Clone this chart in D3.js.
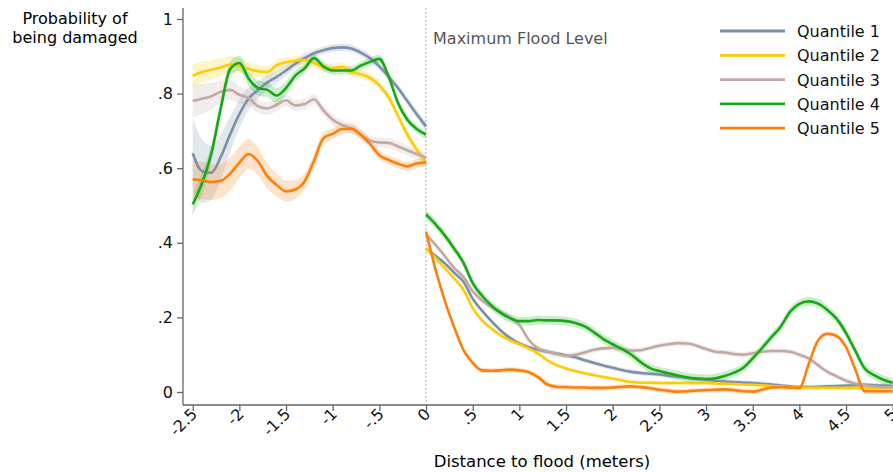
<!DOCTYPE html>
<html>
<head>
<meta charset="utf-8">
<script src="https://cdn.jsdelivr.net/npm/d3@7"></script>
<style>
    body { margin: 0; background: #fff; }
    #chart { width: 893px; height: 472px; }
    text { font-family: "DejaVu Sans", sans-serif; }
</style>
</head>
<body>
<div id="chart"></div>
<script>
// Distance grids (meters)
const xLeft = [-2.5, -2.4, -2.3, -2.2, -2.1, -2.0, -1.9, -1.8, -1.7, -1.6, -1.5, -1.4, -1.3,
    -1.2, -1.1, -1.0, -0.9, -0.8, -0.7, -0.6, -0.5, -0.4, -0.3, -0.2, -0.1, 0];
const xRight = [0, 0.1, 0.2, 0.3, 0.4, 0.5, 0.6, 0.7, 0.8, 0.9, 1.0, 1.1, 1.2, 1.3, 1.4, 1.5,
    1.6, 1.7, 1.8, 1.9, 2.0, 2.1, 2.2, 2.3, 2.4, 2.5, 2.6, 2.7, 2.8, 2.9, 3.0, 3.1, 3.2, 3.3,
    3.4, 3.5, 3.6, 3.7, 3.8, 3.9, 4.0, 4.1, 4.2, 4.3, 4.4, 4.5, 4.6, 4.7, 4.8, 4.9, 5.0];

const seriesNames = ['Quantile 1', 'Quantile 2', 'Quantile 3', 'Quantile 4', 'Quantile 5'];
const seriesColors = ['#7d90a8', '#fbcd06', '#c3a9a5', '#18a818', '#fc800c'];

// Before the flood level
const q1Left = [0.64, 0.592, 0.588, 0.63, 0.69, 0.745, 0.787, 0.81, 0.83, 0.845, 0.862, 0.88, 0.895,
    0.908, 0.916, 0.922, 0.924, 0.921, 0.91, 0.895, 0.873, 0.845, 0.815, 0.78, 0.745, 0.712];
const q2Left = [0.848, 0.858, 0.864, 0.87, 0.878, 0.875, 0.866, 0.86, 0.858, 0.876, 0.884, 0.888, 0.89,
    0.882, 0.87, 0.868, 0.872, 0.858, 0.852, 0.842, 0.822, 0.79, 0.74, 0.69, 0.65, 0.615];
const q3Left = [0.78, 0.786, 0.793, 0.805, 0.81, 0.797, 0.788, 0.766, 0.76, 0.77, 0.782, 0.768, 0.772,
    0.785, 0.755, 0.73, 0.716, 0.706, 0.69, 0.674, 0.669, 0.668, 0.658, 0.648, 0.638, 0.628];
const q4Left = [0.503, 0.56, 0.64, 0.76, 0.865, 0.882, 0.84, 0.815, 0.81, 0.795, 0.815, 0.848, 0.868,
    0.895, 0.873, 0.862, 0.862, 0.862, 0.875, 0.885, 0.893, 0.845, 0.775, 0.73, 0.705, 0.69];
const q5Left = [0.57, 0.567, 0.563, 0.566, 0.585, 0.615, 0.638, 0.618, 0.578, 0.555, 0.538, 0.543, 0.565,
    0.62, 0.68, 0.692, 0.705, 0.706, 0.69, 0.665, 0.635, 0.622, 0.612, 0.605, 0.613, 0.615];

// Half widths of the shaded bands, before the flood level
const q1LeftSe = [0.095, 0.085, 0.072, 0.06, 0.048, 0.038, 0.03, 0.024, 0.019, 0.016, 0.014, 0.012, 0.011,
    0.01, 0.01, 0.01, 0.01, 0.01, 0.01, 0.01, 0.01, 0.01, 0.01, 0.01, 0.011, 0.012];
const q2LeftSe = [0.03, 0.028, 0.026, 0.024, 0.022, 0.02, 0.018, 0.017, 0.016, 0.015, 0.014, 0.013, 0.013,
    0.012, 0.012, 0.012, 0.012, 0.012, 0.012, 0.012, 0.012, 0.012, 0.012, 0.012, 0.012, 0.012];
const q3LeftSe = [0.045, 0.04, 0.035, 0.03, 0.026, 0.023, 0.02, 0.018, 0.017, 0.016, 0.015, 0.015, 0.014,
    0.014, 0.014, 0.014, 0.013, 0.013, 0.013, 0.013, 0.013, 0.013, 0.013, 0.013, 0.013, 0.013];
const q4LeftSe = [0.03, 0.028, 0.025, 0.022, 0.02, 0.02, 0.02, 0.02, 0.02, 0.02, 0.018, 0.015, 0.013,
    0.012, 0.012, 0.011, 0.011, 0.011, 0.011, 0.011, 0.011, 0.011, 0.011, 0.011, 0.011, 0.011];
const q5LeftSe = [0.05, 0.05, 0.048, 0.046, 0.044, 0.042, 0.04, 0.037, 0.034, 0.031, 0.028, 0.025, 0.022,
    0.019, 0.017, 0.015, 0.014, 0.013, 0.013, 0.013, 0.013, 0.012, 0.012, 0.012, 0.012, 0.012];

// After the flood level
const q1Right = [0.384, 0.365, 0.345, 0.32, 0.296, 0.25, 0.218, 0.19, 0.165, 0.145, 0.13, 0.12, 0.113,
    0.108, 0.103, 0.098, 0.093, 0.085, 0.078, 0.071, 0.065, 0.059, 0.054, 0.051, 0.049, 0.047, 0.044,
    0.041, 0.038, 0.035, 0.033, 0.03, 0.028, 0.027, 0.025, 0.024, 0.022, 0.02, 0.017, 0.015, 0.013,
    0.013, 0.014, 0.015, 0.016, 0.017, 0.018, 0.019, 0.018, 0.017, 0.016];
const q2Right = [0.384, 0.36, 0.332, 0.305, 0.274, 0.225, 0.192, 0.17, 0.152, 0.138, 0.128, 0.117, 0.103,
    0.085, 0.072, 0.063, 0.056, 0.05, 0.045, 0.04, 0.036, 0.031, 0.027, 0.025, 0.025, 0.024, 0.024,
    0.024, 0.024, 0.024, 0.024, 0.023, 0.022, 0.021, 0.02, 0.019, 0.018, 0.016, 0.015, 0.013, 0.012,
    0.011, 0.011, 0.011, 0.011, 0.011, 0.011, 0.011, 0.011, 0.011, 0.011];
const q3Right = [0.422, 0.395, 0.365, 0.333, 0.309, 0.27, 0.245, 0.228, 0.214, 0.2, 0.18, 0.14, 0.117,
    0.108, 0.102, 0.097, 0.1, 0.106, 0.113, 0.117, 0.118, 0.115, 0.111, 0.112, 0.118, 0.124, 0.128,
    0.131, 0.13, 0.124, 0.115, 0.108, 0.106, 0.102, 0.1, 0.104, 0.108, 0.11, 0.11, 0.108, 0.1,
    0.09, 0.072, 0.054, 0.042, 0.03, 0.023, 0.018, 0.015, 0.013, 0.013];
const q4Right = [0.476, 0.45, 0.42, 0.385, 0.347, 0.292, 0.258, 0.232, 0.212, 0.198, 0.19, 0.19, 0.193,
    0.192, 0.192, 0.19, 0.185, 0.176, 0.16, 0.142, 0.128, 0.115, 0.1, 0.08, 0.064, 0.056, 0.05,
    0.044, 0.039, 0.036, 0.035, 0.037, 0.043, 0.052, 0.065, 0.09, 0.118, 0.147, 0.175, 0.215, 0.236,
    0.243, 0.237, 0.22, 0.196, 0.158, 0.11, 0.063, 0.045, 0.033, 0.025];
const q5Right = [0.43, 0.33, 0.245, 0.175, 0.113, 0.078, 0.058, 0.057, 0.058, 0.06, 0.058, 0.053, 0.04,
    0.02, 0.014, 0.013, 0.012, 0.012, 0.011, 0.011, 0.012, 0.014, 0.015, 0.013, 0.01, 0.006, 0.003,
    0.001, 0.002, 0.004, 0.005, 0.006, 0.007, 0.005, 0.002, 0.001, 0.006, 0.012, 0.013, 0.012, 0.011,
    0.075, 0.138, 0.156, 0.15, 0.12, 0.06, 0.002, 0.002, 0.002, 0.002];

// Half widths after the flood level (thin bands)
const rightSe = [0.006, 0.005, 0.007, 0.012, 0.007];

const xTickValues = [-2.5, -2, -1.5, -1, -0.5, 0, 0.5, 1, 1.5, 2, 2.5, 3, 3.5, 4, 4.5, 5];
const xTickLabels = ['-2.5', '-2', '-1.5', '-1', '-.5', '0', '.5', '1', '1.5', '2', '2.5', '3', '3.5', '4', '4.5', '5'];
const yTickValues = [0, 0.2, 0.4, 0.6, 0.8, 1];
const yTickLabels = ['0', '.2', '.4', '.6', '.8', '1'];

window.FloodChart = {
    width: 893,
    height: 472,

    init() {
        this.svg = d3.select('#chart')
            .append('svg')
            .attr('width', this.width)
            .attr('height', this.height);

        this.x = d3.scaleLinear().domain([-2.5, 5]).range([192.7, 892.7]);
        this.y = d3.scaleLinear().domain([0, 1]).range([392, 19]);

        const left = [q1Left, q2Left, q3Left, q4Left, q5Left];
        const leftSe = [q1LeftSe, q2LeftSe, q3LeftSe, q4LeftSe, q5LeftSe];
        const right = [q1Right, q2Right, q3Right, q4Right, q5Right];

        this.series = seriesNames.map((name, i) => ({
            name,
            color: seriesColors[i],
            left: xLeft.map((d, j) => ({ x: d, y: left[i][j], se: leftSe[i][j] })),
            right: xRight.map((d, j) => ({ x: d, y: right[i][j], se: rightSe[i] }))
        }));

        this.drawAxes();
        this.drawSeries();
        this.drawLegend();
    },

    drawAxes() {
        const svg = this.svg;
        const x = this.x, y = this.y;

        // flood level marker
        svg.append('line')
            .attr('x1', x(0)).attr('x2', x(0))
            .attr('y1', 8).attr('y2', 405)
            .attr('stroke', '#bdbdbd')
            .attr('stroke-width', 1.2)
            .attr('stroke-dasharray', '2,2');

        svg.append('text')
            .attr('x', x(0) + 7)
            .attr('y', 44)
            .style('font-size', '16px')
            .style('fill', '#555')
            .text('Maximum Flood Level');

        const yAxis = svg.append('g')
            .attr('transform', 'translate(183,0)')
            .call(d3.axisLeft(y).tickValues(yTickValues)
                .tickFormat((d, i) => yTickLabels[i]).tickSize(6).tickPadding(4));
        yAxis.select('.domain').attr('d', 'M0,8V405');

        const xAxis = svg.append('g')
            .attr('transform', 'translate(0,405)')
            .call(d3.axisBottom(x).tickValues(xTickValues)
                .tickFormat((d, i) => xTickLabels[i]).tickSize(6));
        xAxis.select('.domain').attr('d', 'M183,0H893');
        xAxis.selectAll('text')
            .attr('text-anchor', 'end')
            .attr('dy', 0)
            .attr('transform', 'translate(5,10) rotate(-45)')
            .attr('y', 0)
            .attr('x', 0);

        [yAxis, xAxis].forEach(a => {
            a.selectAll('.domain, line').attr('stroke', '#666').attr('stroke-width', 1.3);
            a.selectAll('text')
                .style('font-size', '16px')
                .style('font-family', '"DejaVu Sans", sans-serif')
                .attr('fill', '#111');
        });

        // titles
        svg.append('text')
            .attr('x', 75)
            .attr('y', 24)
            .attr('text-anchor', 'middle')
            .style('font-size', '16px')
            .selectAll('tspan')
            .data(['Probability of', 'being damaged'])
            .enter().append('tspan')
            .attr('x', 75)
            .attr('dy', (d, i) => i === 0 ? 0 : 19)
            .text(d => d);

        svg.append('text')
            .attr('x', 542)
            .attr('y', 467)
            .attr('text-anchor', 'middle')
            .style('font-size', '16.5px')
            .text('Distance to flood (meters)');
    },

    drawSeries() {
        const x = this.x, y = this.y;
        const g = this.svg.append('g');

        const area = d3.area()
            .x(d => x(d.x))
            .y0(d => y(d.y - d.se))
            .y1(d => y(d.y + d.se))
            .curve(d3.curveMonotoneX);

        const line = d3.line()
            .x(d => x(d.x))
            .y(d => y(d.y))
            .curve(d3.curveMonotoneX);

        this.series.forEach(s => {
            [s.left, s.right].forEach(part => {
                g.append('path')
                    .datum(part)
                    .attr('fill', s.color)
                    .attr('fill-opacity', 0.22)
                    .attr('d', area);
            });
        });

        this.series.forEach(s => {
            [s.left, s.right].forEach(part => {
                g.append('path')
                    .datum(part)
                    .attr('fill', 'none')
                    .attr('stroke', s.color)
                    .attr('stroke-width', 2.6)
                    .attr('stroke-linejoin', 'round')
                    .attr('d', line);
            });
        });
    },

    drawLegend() {
        const legend = this.svg.append('g');
        const rows = legend.selectAll('g')
            .data(this.series)
            .enter().append('g')
            .attr('transform', (d, i) => `translate(720,${31 + i * 24.3})`);

        rows.append('line')
            .attr('x1', 0).attr('x2', 65)
            .attr('stroke', d => d.color)
            .attr('stroke-width', 2.8);

        rows.append('text')
            .attr('x', 77)
            .attr('y', 6)
            .style('font-size', '16px')
            .attr('fill', '#111')
            .text(d => d.name);
    }
};

FloodChart.init();
</script>
</body>
</html>
